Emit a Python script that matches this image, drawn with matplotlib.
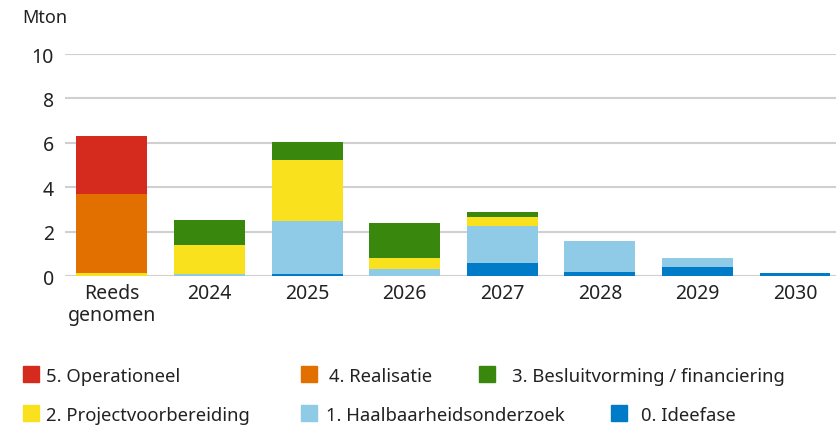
import matplotlib
matplotlib.use("Agg")
import matplotlib.pyplot as plt
import numpy as np
from matplotlib.patches import Rectangle

categories = ["Reeds\ngenomen", "2024", "2025", "2026", "2027", "2028", "2029", "2030"]
ideefase = [0.0, 0.0, 0.1, 0.0, 0.6, 0.2, 0.4, 0.12]
haalbaarheid = [0.0, 0.1, 2.4, 0.3, 1.65, 1.4, 0.4, 0.0]
projectvoorbereiding = [0.12, 1.3, 2.75, 0.5, 0.4, 0.0, 0.0, 0.0]
besluitvorming = [0.0, 1.15, 0.8, 1.6, 0.22, 0.0, 0.0, 0.0]
realisatie = [3.56, 0.0, 0.0, 0.0, 0.0, 0.0, 0.0, 0.0]
operationeel = [2.61, 0.0, 0.0, 0.0, 0.0, 0.0, 0.0, 0.0]

series = [
    ("0. Ideefase", ideefase, "#007bc7"),
    ("1. Haalbaarheidsonderzoek", haalbaarheid, "#8fcae7"),
    ("2. Projectvoorbereiding", projectvoorbereiding, "#f9e11e"),
    ("3. Besluitvorming / financiering", besluitvorming, "#39870c"),
    ("4. Realisatie", realisatie, "#e17000"),
    ("5. Operationeel", operationeel, "#d52b1e"),
]

# legend layout (pixels from top-left): rows of (label, square x, text x)
legend_rows = [
    (375, [("5. Operationeel", 23, 46), ("4. Realisatie", 301, 329), ("3. Besluitvorming / financiering", 479, 512)]),
    (414, [("2. Projectvoorbereiding", 23, 46), ("1. Haalbaarheidsonderzoek", 301, 326), ("0. Ideefase", 611, 641)]),
]

W, H = 836, 427
text_color = "#222222"
plt.rcParams["font.family"] = ["Noto Sans", "DejaVu Sans"]

fig = plt.figure(figsize=(W / 100, H / 100), dpi=100)
axis = fig.add_axes([65 / W, 0.351, 1 - 65 / W, 0.52])

x = np.arange(len(categories))
bottom = np.zeros(len(categories))
for label, values, color in series:
    vals = np.array(values)
    axis.bar(x, vals, bottom=bottom, width=0.727, color=color, zorder=3)
    bottom += vals

axis.set_xlim(-0.48, 7.42)
axis.set_ylim(0, 10)
axis.set_yticks([0, 2, 4, 6, 8, 10])
axis.set_xticks(x)
axis.set_xticklabels(categories, linespacing=1.15)
axis.grid(True, axis="y", color="#d0d0d0", linewidth=1.5, zorder=0)
axis.tick_params(axis="both", length=0, colors=text_color, labelsize=14)
axis.tick_params(axis="y", pad=8)
axis.tick_params(axis="x", pad=5)
for spine in axis.spines.values():
    spine.set_visible(False)

fig.text(22 / W, 1 - 18 / H, "Mton", color=text_color, fontsize=13, va="center", ha="left")

colors = {label: color for label, _, color in series}
for y_px, items in legend_rows:
    for label, sq_x, tx_x in items:
        fig.add_artist(Rectangle((sq_x / W, 1 - (y_px + 8) / H), 16 / W, 16 / H,
                                 transform=fig.transFigure, color=colors[label]))
        fig.text(tx_x / W, 1 - y_px / H, label, color=text_color, fontsize=13.3,
                 va="center_baseline", ha="left")

fig.savefig("out.png", dpi=100)
